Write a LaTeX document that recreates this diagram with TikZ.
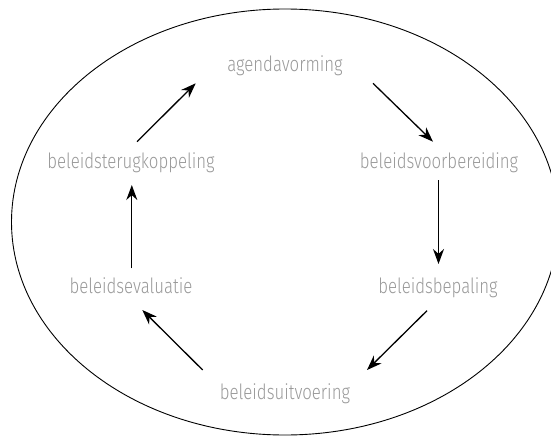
\documentclass[tikz,border=0pt]{standalone}
\usepackage{fontspec}
\setmainfont{Fira Sans Light}[FakeStretch=0.8]
\usetikzlibrary{arrows.meta,calc}
\definecolor{txtgray}{HTML}{999999}
\begin{document}
\begin{tikzpicture}[x=1pt,y=-1pt,
  lbl/.style={font=\fontsize{21}{24}\selectfont, text=txtgray, inner sep=0pt, anchor=base},
  flow/.style={-{Stealth[length=15pt,width=11pt]}, line width=1.3pt}]
\useasboundingbox (0,0) rectangle (551,436);
\begin{scope}
  \clip (0,0) rectangle (551,436);
  \draw[line width=0.9pt] (285,222) ellipse [x radius=273.5, y radius=213];
\end{scope}
\node[lbl] (agenda) at (285,71.7) {agendavorming};
\node[lbl] (voorb) at (439,168) {beleidsvoorbereiding};
\node[lbl] (bepal) at (438,293) {beleidsbepaling};
\node[lbl] (uitv) at (285,399) {beleidsuitvoering};
\node[lbl] (evalu) at (131,293) {beleidsevaluatie};
\node[lbl] (terug) at (131,168) {beleidsterugkoppeling};
\draw[flow] ($(agenda.base)+(88,11.6)$) -- ($(voorb.base)+(-6,-26.3)$);
\draw[flow] ($(voorb.base)+(-0.5,12)$) -- ($(bepal.base)+(0.5,-29)$);
\draw[flow] ($(bepal.base)+(-11,17.7)$) -- ($(uitv.base)+(82,-29)$);
\draw[flow] ($(uitv.base)+(-82.3,-29)$) -- ($(evalu.base)+(11.3,17)$);
\draw[flow] ($(evalu.base)+(0.8,-24.7)$) -- ($(terug.base)+(0.8,17)$);
\draw[flow] ($(terug.base)+(6,-26.3)$) -- ($(agenda.base)+(-89.3,11.6)$);
\end{tikzpicture}
\end{document}
